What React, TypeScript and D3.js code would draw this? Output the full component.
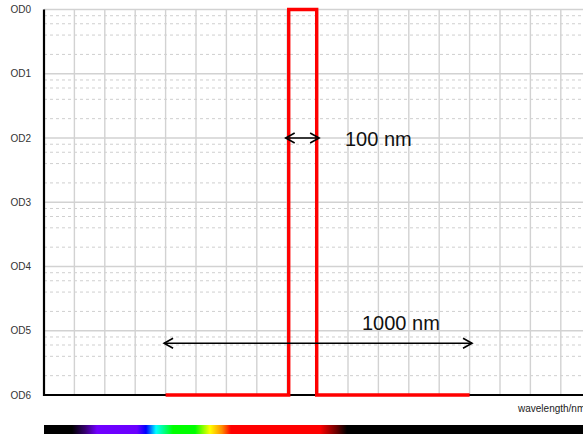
import React from 'react';
import * as d3 from 'd3';

// optical density labels, transmission decades
const odLabels = ['OD0', 'OD1', 'OD2', 'OD3', 'OD4', 'OD5', 'OD6'];
const decades = [1, 1e-1, 1e-2, 1e-3, 1e-4, 1e-5, 1e-6];
const minorSteps = [2, 4, 6, 8];

// wavelength grid (nm)
const gridWavelengths = d3.range(0, 1900, 100);

// filter curve: wavelength (nm) vs transmission
const curveWl = [400, 805, 805, 897, 897, 1400];
const curveT = [1e-6, 1e-6, 1, 1, 1e-6, 1e-6];

// annotations
const narrowArrow = { from: 795, to: 905, t: 1e-2, label: '100 nm' };
const wideArrow = { from: 395, to: 1408, t: 6.4e-6, label: '1000 nm' };

// spectrum colour bar (pixel position, colour)
const spectrumStops: [number, string][] = [
  [44, '#000000'], [72, '#000000'], [85, '#35006e'], [97, '#7000ff'],
  [137, '#6a00ff'], [146, '#0000ff'], [156, '#00ffff'], [173, '#00ff00'],
  [195, '#00ff00'], [210, '#ffff00'], [222, '#ff8c00'], [231, '#ff0000'],
  [320, '#ff0000'], [336, '#700000'], [347, '#000000'], [583, '#000000'],
];

const W = 583;
const H = 440;

export default function App() {
  const x = d3.scaleLinear().domain([0, 1800]).range([44, 44 + 18 * 30.4]);
  const y = d3.scaleLog().domain([1, 1e-6]).range([9.5, 395]);

  const minor: number[] = [];
  decades.slice(1).forEach((d) => minorSteps.forEach((k) => minor.push(d * k)));

  const line = d3
    .line<number>()
    .x((_, i) => x(curveWl[i]))
    .y((_, i) => y(curveT[i]));

  const arrowHead = (px: number, py: number, dir: number) =>
    `M${px - dir * 9},${py - 5} L${px},${py} L${px - dir * 9},${py + 5}`;

  const drawArrow = (a: typeof narrowArrow) => {
    const x1 = x(a.from);
    const x2 = x(a.to);
    const yy = y(a.t);
    return (
      <g stroke="#000" strokeWidth={1.6} fill="none">
        <line x1={x1} x2={x2} y1={yy} y2={yy} />
        <path d={arrowHead(x1, yy, -1)} />
        <path d={arrowHead(x2, yy, 1)} />
      </g>
    );
  };

  const font = 'Liberation Sans, Arial, sans-serif';

  return (
    <svg width={W} height={H} style={{ position: 'absolute', left: 0, top: 0, background: '#fff' }}>
      <defs>
        <linearGradient id="spec" gradientUnits="userSpaceOnUse" x1={44} x2={583} y1={0} y2={0}>
          {spectrumStops.map(([p, c], i) => (
            <stop key={i} offset={(p - 44) / (583 - 44)} stopColor={c} />
          ))}
        </linearGradient>
      </defs>

      {/* minor grid */}
      {minor.map((t, i) => (
        <line key={'m' + i} x1={44} x2={W} y1={y(t)} y2={y(t)} stroke="#cfcfcf" strokeWidth={1} strokeDasharray="3,3" />
      ))}
      {/* major grid */}
      {decades.map((t, i) => (
        <line key={'h' + i} x1={44} x2={W} y1={y(t)} y2={y(t)} stroke="#d2d2d2" strokeWidth={1.4} />
      ))}
      {gridWavelengths.slice(1).map((w) => (
        <line key={'v' + w} x1={x(w)} x2={x(w)} y1={y(1)} y2={y(1e-6)} stroke="#d2d2d2" strokeWidth={1.4} />
      ))}

      {/* axes */}
      <line x1={44} x2={44} y1={y(1)} y2={y(1e-6) + 1} stroke="#000" strokeWidth={2.2} />
      <line x1={43} x2={W} y1={y(1e-6)} y2={y(1e-6)} stroke="#000" strokeWidth={2.2} />

      {odLabels.map((l, i) => (
        <text key={l} x={31} y={y(decades[i])} textAnchor="end" dominantBaseline="central" fontFamily={font} fontSize={10} fill="#333">
          {l}
        </text>
      ))}

      {/* filter curve */}
      <path d={line(curveWl) || ''} fill="none" stroke="#ff0000" strokeWidth={3.4} strokeLinejoin="miter" />

      {drawArrow(narrowArrow)}
      {drawArrow(wideArrow)}
      <text x={345} y={146} fontFamily={font} fontSize={20} fill="#111">{narrowArrow.label}</text>
      <text x={362} y={330} fontFamily={font} fontSize={20} fill="#111">{wideArrow.label}</text>

      <text x={518} y={412} fontFamily={font} fontSize={10} fill="#222">wavelength/nm</text>

      <rect x={44} y={425} width={W - 44} height={9} fill="url(#spec)" />
    </svg>
  );
}
